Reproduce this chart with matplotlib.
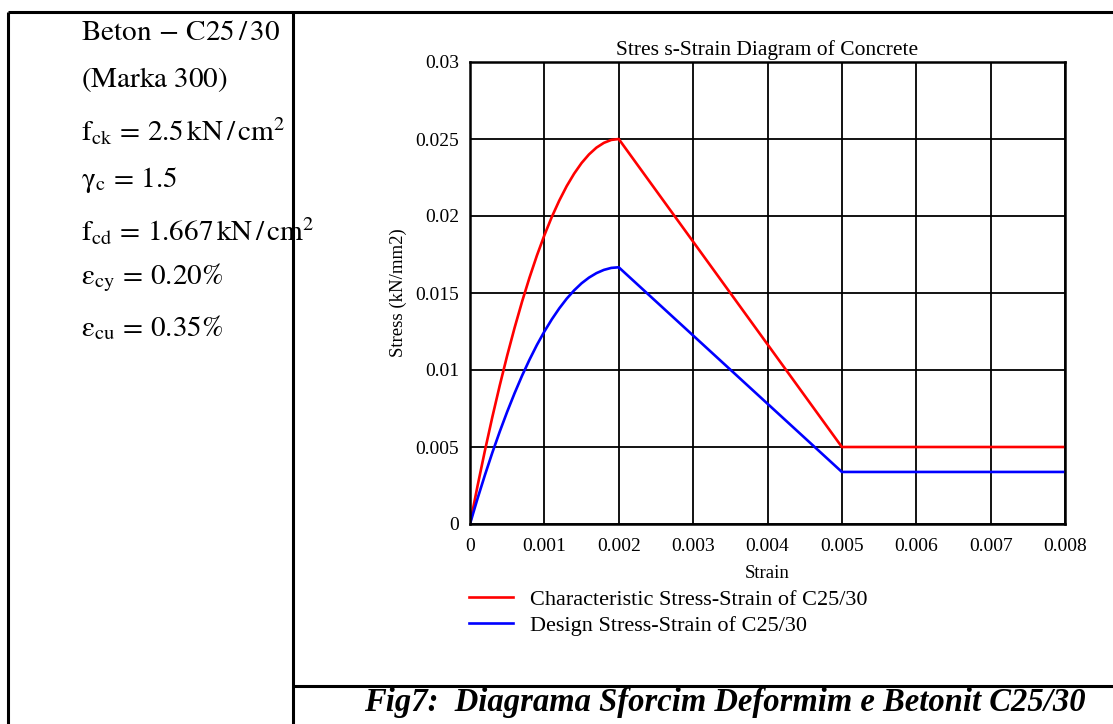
import matplotlib
matplotlib.use("Agg")
import matplotlib.pyplot as plt
from matplotlib.lines import Line2D
from matplotlib.ticker import FixedLocator, FormatStrFormatter

plt.rcParams['font.family'] = ['Liberation Serif', 'DejaVu Serif']
plt.rcParams['mathtext.fontset'] = 'stix'

# ---- data ----
strain_char = [0, 0.0001, 0.0002, 0.0003, 0.0004, 0.0005, 0.0006, 0.0007, 0.0008, 0.0009, 0.001,
               0.0011, 0.0012, 0.0013, 0.0014, 0.0015, 0.0016, 0.0017, 0.0018, 0.0019, 0.002,
               0.005, 0.008]
stress_char = [0, 0.00244, 0.00475, 0.00694, 0.009, 0.01094, 0.01275, 0.01444, 0.016, 0.01744, 0.01875,
               0.01994, 0.021, 0.02194, 0.02275, 0.02344, 0.024, 0.02444, 0.02475, 0.02494, 0.025,
               0.005, 0.005]
strain_design = [0, 0.0001, 0.0002, 0.0003, 0.0004, 0.0005, 0.0006, 0.0007, 0.0008, 0.0009, 0.001,
                 0.0011, 0.0012, 0.0013, 0.0014, 0.0015, 0.0016, 0.0017, 0.0018, 0.0019, 0.002,
                 0.005, 0.008]
stress_design = [0, 0.00163, 0.00317, 0.00463, 0.006, 0.00729, 0.0085, 0.00963, 0.01067, 0.01163, 0.0125,
                 0.01329, 0.014, 0.01463, 0.01517, 0.01563, 0.016, 0.01629, 0.0165, 0.01663, 0.01667,
                 0.00338, 0.00338]
x_ticks = [0, 0.001, 0.002, 0.003, 0.004, 0.005, 0.006, 0.007, 0.008]
y_ticks = [0, 0.005, 0.01, 0.015, 0.02, 0.025, 0.03]
series_labels = ["Characteristic Stress-Strain of C25/30", "Design Stress-Strain of C25/30"]
info_lines = [
    r"$\mathrm{Beton}\,-\,\mathrm{C25\,/\,30}$",
    r"$\mathrm{(Marka\ 300)}$",
    r"$\mathrm{f_{ck}}\,=\,2.5\,\mathrm{kN\,/\,cm^{2}}$",
    r"$\mathrm{\gamma_{c}}\,=\,1.5$",
    r"$\mathrm{f_{cd}}\,=\,1.667\,\mathrm{kN\,/\,cm^{2}}$",
    r"$\mathrm{\varepsilon_{cy}}\,=\,0.20\%$",
    r"$\mathrm{\varepsilon_{cu}}\,=\,0.35\%$",
]
caption = "Fig7:  Diagrama Sforcim Deformim e Betonit C25/30"

W, H = 1113, 724
fig = plt.figure(figsize=(W / 100, H / 100), dpi=100)

def fx(px):
    return px / W

def fy(py):
    return 1 - py / H

# table lines
for (x0, y0, x1, y1) in [(8, 12, W, 12), (8, 12, 8, H), (293, 12, 293, H), (293, 686, W, 686)]:
    fig.add_artist(Line2D([fx(x0), fx(x1)], [fy(y0), fy(y1)], color='black', lw=2.2,
                          transform=fig.transFigure, solid_capstyle='butt'))

# info text
ys = [33, 79, 131, 180, 231, 278, 328]
for t, yy in zip(info_lines, ys):
    fig.text(fx(81), fy(yy), t, fontsize=21, va='center', ha='left')

ax = fig.add_axes([fx(470), fy(524), fx(1065) - fx(470), fy(62) - fy(524)])
ax.plot(strain_char, stress_char, color='#ff0000', lw=1.9, label=series_labels[0])
ax.plot(strain_design, stress_design, color='#0000ff', lw=1.9, label=series_labels[1])
ax.set_xlim(0, 0.008)
ax.set_ylim(0, 0.03)
ax.xaxis.set_major_locator(FixedLocator(x_ticks))
ax.yaxis.set_major_locator(FixedLocator(y_ticks))
ax.xaxis.set_major_formatter(FormatStrFormatter('%g'))
ax.yaxis.set_major_formatter(FormatStrFormatter('%g'))
ax.grid(True, color='black', lw=1.3)
ax.set_axisbelow(True)
ax.tick_params(length=0, labelsize=14, pad=8)
ax.tick_params(axis='x', pad=10)
for s in ax.spines.values():
    s.set_linewidth(1.8)
ax.set_title("Stres s-Strain Diagram of Concrete", fontsize=15.5, pad=5)
ax.set_xlabel("Strain", fontsize=13.5, labelpad=7)
ax.set_ylabel("Stress (kN/mm2)", fontsize=13.5, labelpad=6)

ax.legend(loc='upper left', bbox_to_anchor=(fx(469), fy(589)), bbox_transform=fig.transFigure,
          frameon=False, fontsize=16, handlelength=2.0, handletextpad=0.75,
          borderpad=0, borderaxespad=0, labelspacing=0.25)

fig.text(fx(725), fy(703), caption, fontsize=23.5, fontweight='bold', fontstyle='italic',
         ha='center', va='center')

fig.savefig("out.png", dpi=100)
